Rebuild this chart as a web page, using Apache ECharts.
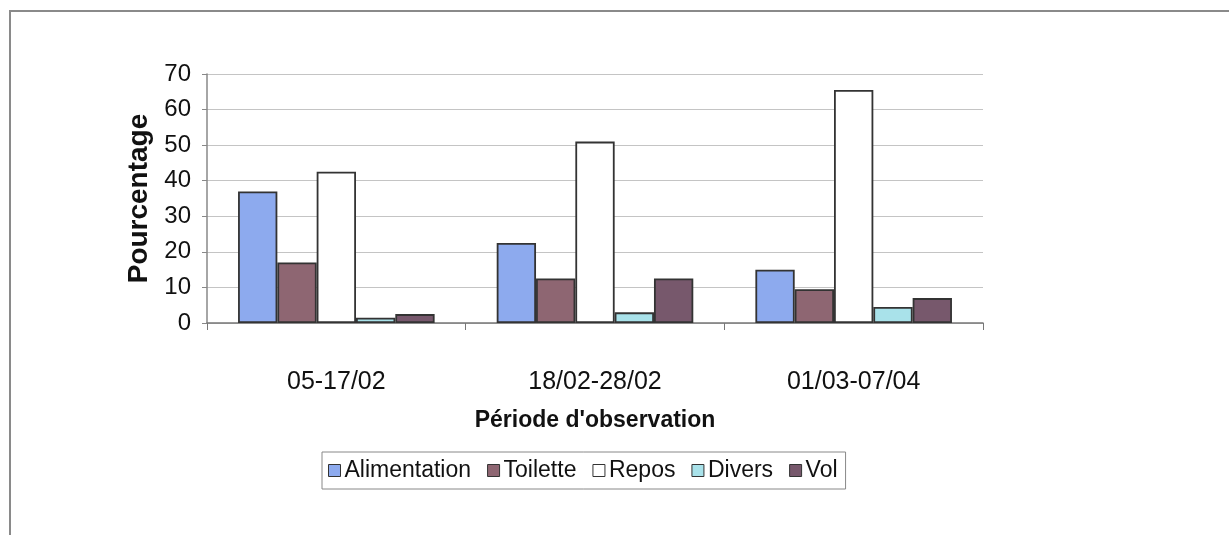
<!DOCTYPE html>
<html>
<head>
<meta charset="utf-8">
<script src="https://cdn.jsdelivr.net/npm/echarts@6/dist/echarts.min.js"></script>
<style>
  html, body { margin: 0; padding: 0; background: #fff; }
  #chart { width: 1229px; height: 535px; }
</style>
</head>
<body>
<div id="chart"></div>
<script>
// Observation periods and activity shares (%)
const periods = ['05-17/02', '18/02-28/02', '01/03-07/04'];
const alimentation = [37, 22.5, 15];
const toilette = [17, 12.5, 9.5];
const repos = [42.5, 51, 65.5];
const divers = [1.5, 3, 4.5];
const vol = [2.5, 12.5, 7];
const yTicks = [0, 10, 20, 30, 40, 50, 60, 70];

const font = '"Liberation Sans", Arial, sans-serif';
const edge = '#333333';

function bar(name, data, color) {
  return {
    name: name,
    type: 'bar',
    data: data,
    barGap: '0%',
    barCategoryGap: '24%',
    itemStyle: { color: color, borderColor: edge, borderWidth: 1.8 }
  };
}

const chart = echarts.init(document.getElementById('chart'), null, { renderer: 'canvas' });
chart.setOption({
  backgroundColor: '#ffffff',
  animation: false,
  graphic: [{
    type: 'rect',
    shape: { x: 10, y: 11, width: 1240, height: 560 },
    style: { fill: 'none', stroke: '#8a8a8a', lineWidth: 2 },
    silent: true
  }],
  grid: { left: 207, right: 246, top: 74, bottom: 212 },
  legend: {
    left: 322, top: 452,
    itemWidth: 12, itemHeight: 12, itemGap: 16,
    padding: [7, 8, 7, 6],
    borderColor: '#888', borderWidth: 1,
    icon: 'rect',
    textStyle: { fontFamily: font, fontSize: 23, color: '#111', padding: [0, 0, 0, -1] },
    itemStyle: { borderColor: edge, borderWidth: 1 },
    data: ['Alimentation', 'Toilette', 'Repos', 'Divers', 'Vol']
  },
  xAxis: {
    type: 'category',
    data: periods,
    name: "Période d'observation",
    nameLocation: 'middle',
    nameGap: 86,
    nameTextStyle: { fontFamily: font, fontSize: 23, fontWeight: 'bold', color: '#111' },
    axisLine: { lineStyle: { color: '#777', width: 1.5 } },
    axisTick: { show: true, length: 7, lineStyle: { color: '#777' } },
    axisLabel: { fontFamily: font, fontSize: 25, color: '#111', margin: 47 }
  },
  yAxis: {
    type: 'value',
    min: yTicks[0], max: yTicks[yTicks.length - 1], interval: 10,
    name: 'Pourcentage',
    nameLocation: 'middle',
    nameGap: 48,
    nameTextStyle: { fontFamily: font, fontSize: 28, fontWeight: 'bold', color: '#111' },
    axisLine: { show: true, lineStyle: { color: '#888', width: 1.5 } },
    axisTick: { show: true, length: 5, lineStyle: { color: '#888' } },
    axisLabel: { fontFamily: font, fontSize: 24, color: '#111', margin: 16 },
    splitLine: { lineStyle: { color: '#c4c4c4', width: 1.2 } }
  },
  series: [
    bar('Alimentation', alimentation, '#8daaee'),
    bar('Toilette', toilette, '#8e6672'),
    bar('Repos', repos, '#ffffff'),
    bar('Divers', divers, '#a9e2ea'),
    bar('Vol', vol, '#77586c')
  ]
});
</script>
</body>
</html>
